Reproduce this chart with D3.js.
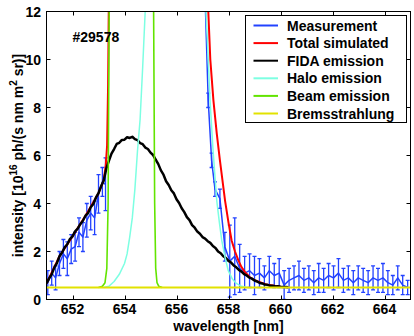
<!DOCTYPE html>
<html>
<head>
<meta charset="utf-8">
<script src="https://cdn.jsdelivr.net/npm/d3@7"></script>
<style>
body { margin: 0; background: #fff; }
text { font-family: "Liberation Sans", Arial, sans-serif; font-weight: bold; }
</style>
</head>
<body>
<div id="chart"></div>
<script>
// measured spectrum, left part / right part (null = gap)
var measWl = [651.05, 651.20, 651.35, 651.50, 651.65, 651.80, 651.95, 652.10, 652.25, 652.40, 652.55, 652.70, 652.85, 653.00, 653.15, 653.27,
	null,
	657.10, 657.22, 657.35, 657.48, 657.67, 657.86, 658.05, 658.24, 658.43, 658.62, 658.81, 659.00, 659.19, 659.38, 659.57, 659.76, 659.95,
	660.14, 660.33, 660.52, 660.71, 660.90, 661.09, 661.28, 661.47, 661.66, 661.85, 662.04, 662.23, 662.42, 662.61, 662.80, 662.99,
	663.18, 663.37, 663.56, 663.75, 663.94, 664.13, 664.32, 664.51, 664.70, 664.89];
var measVal = [0.7, 1.1, 0.9, 1.5, 1.9, 1.7, 2.1, 2.2, 2.8, 2.6, 3.3, 3.6, 3.4, 4.4, 4.9, 4.8,
	null,
	12.6, 8.3, 5.8, 4.6, 4.2, 2.2, 1.6, 1.8, 1.3, 1.1, 1.2, 1.0, 1.1, 0.9, 1.2, 1.0, 1.1,
	0.6, 0.8, 0.9, 1.0, 0.8, 0.9, 0.7, 0.9, 0.8, 1.0, 0.9, 1.1, 0.8, 0.9, 0.7, 0.9,
	0.8, 0.7, 0.9, 0.8, 0.9, 0.7, 0.6, 0.9, 0.6, 0.5];
var measErr = [0.5, 0.5, 0.5, 0.5, 0.6, 0.7, 0.6, 0.6, 0.6, 0.6, 0.7, 0.7, 0.7, 0.8, 0.6, 1.1,
	null,
	0.3, 0.3, 0.3, 0.3, 0.4, 0.6, 1.5, 1.6, 1.0, 0.7, 0.7, 0.8, 0.6, 0.5, 0.6, 0.5, 0.6,
	0.6, 0.5, 0.5, 0.6, 0.5, 0.5, 0.5, 0.6, 0.5, 0.5, 0.5, 0.6, 0.5, 0.5, 0.5, 0.5,
	0.5, 0.5, 0.5, 0.5, 0.6, 0.5, 0.4, 0.5, 0.4, 0.3];

var totalWl = [651.0, 651.5, 652.0, 652.5, 653.0, 653.2, 653.28, 653.33, 653.37, 653.41, 653.5, 657.1, 657.2, 657.3, 657.42, 657.55,
	657.67, 657.87, 658.0, 658.12, 658.25, 658.38, 658.5, 658.63, 658.8, 659.0, 659.5, 660.0, 660.3];
var totalVal = [0.67, 1.8, 2.63, 3.49, 4.43, 4.96, 5.6, 6.4, 9.0, 14, 30, 30, 12.6, 10.0, 8.3, 6.9,
	5.8, 4.1, 3.2, 2.46, 2.0, 1.63, 1.35, 1.15, 0.95, 0.8, 0.61, 0.53, 0.51];

var fidaWl = [651.0, 651.1, 651.2, 651.3, 651.4, 651.5, 651.6, 651.7, 651.8, 651.9,
	652.0, 652.1, 652.2, 652.3, 652.4, 652.5, 652.6, 652.7, 652.8, 652.9,
	653.0, 653.1, 653.2, 653.3, 653.4, 653.5, 653.6, 653.7, 653.8, 653.9,
	654.0, 654.1, 654.2, 654.3, 654.4, 654.5, 654.6, 654.7, 654.8, 654.9,
	655.0, 655.1, 655.2, 655.3, 655.4, 655.5, 655.6, 655.7, 655.8, 655.9,
	656.0, 656.1, 656.2, 656.3, 656.4, 656.5, 656.6, 656.7, 656.8, 656.9,
	657.0, 657.1, 657.2, 657.3, 657.4, 657.5, 657.6, 657.7, 657.8, 657.9,
	658.0, 658.1, 658.2, 658.3, 658.4, 658.5, 658.6, 658.7, 658.8, 658.9,
	659.0, 659.1, 659.2, 659.3, 659.4, 659.5, 659.6, 659.7, 659.8, 659.9,
	660.0, 660.1, 660.2, 660.3];
var fidaVal = [0.67, 0.88, 1.05, 1.33, 1.52, 1.80, 1.96, 2.17, 2.30, 2.52,
	2.63, 2.84, 2.95, 3.14, 3.28, 3.49, 3.60, 3.84, 3.98, 4.24,
	4.43, 4.72, 4.96, 5.45, 5.78, 6.08, 6.27, 6.48, 6.53, 6.65,
	6.66, 6.76, 6.73, 6.78, 6.68, 6.64, 6.52, 6.47, 6.33, 6.27,
	6.12, 6.02, 5.83, 5.64, 5.38, 5.20, 4.93, 4.77, 4.55, 4.42,
	4.18, 4.02, 3.80, 3.64, 3.43, 3.31, 3.10, 2.99, 2.83, 2.74,
	2.60, 2.54, 2.43, 2.36, 2.23, 2.15, 2.00, 1.93, 1.80, 1.73,
	1.61, 1.54, 1.42, 1.34, 1.23, 1.16, 1.06, 1.00, 0.91, 0.87,
	0.79, 0.75, 0.69, 0.67, 0.62, 0.61, 0.57, 0.57, 0.54, 0.55,
	0.53, 0.52, 0.52, 0.51];

var haloWl = [653.2, 653.4, 653.6, 653.8, 654.0, 654.1, 654.2, 654.3, 654.4, 654.5, 654.6, 654.7, 654.8, 655.0, 656.1,
	657.0, 657.1, 657.2, 657.29, 657.4, 657.55, 657.65, 657.74, 657.87, 657.99, 658.15, 658.3, 658.5, 658.7];
var haloVal = [0.5, 0.55, 0.75, 1.05, 1.5, 1.9, 2.6, 3.4, 4.6, 6.2, 7.5, 9.7, 12.1, 20, 40,
	20, 12.8, 10.5, 8.3, 6.3, 4.1, 3.2, 2.46, 1.75, 1.2, 0.85, 0.67, 0.55, 0.5];

var beamWl = [653.0, 653.15, 653.25, 653.32, 653.37, 653.41, 653.45, 655.08, 655.12, 655.16, 655.2, 655.25, 655.32, 655.45];
var beamVal = [0.5, 0.55, 0.7, 1.3, 4, 12, 30, 30, 12, 4, 1.3, 0.7, 0.55, 0.5];

var bremsWl = [651, 665];
var bremsVal = [0.5, 0.5];

var legendNames = ["Measurement", "Total simulated", "FIDA emission", "Halo emission", "Beam emission", "Bremsstrahlung"];
var legendColors = ["#2242ff", "#ff0000", "#000000", "#7dffe2", "#62e400", "#e2e200"];

var xTicks = [652, 654, 656, 658, 660, 662, 664];
var yTicks = [0, 2, 4, 6, 8, 10, 12];

var W = 414, H = 336;
var x0 = 46.5, x1 = 410.5, y0 = 11.5, y1 = 299.5;

var x = d3.scaleLinear().domain([651, 665]).range([x0, x1]);
var y = d3.scaleLinear().domain([0, 12]).range([y1, y0]);

var svg = d3.select("#chart").append("svg")
	.attr("width", W)
	.attr("height", H);

svg.append("clipPath").attr("id", "clip")
	.append("rect")
	.attr("x", x0).attr("y", y0)
	.attr("width", x1 - x0).attr("height", y1 - y0);

var plot = svg.append("g").attr("clip-path", "url(#clip)");

function pairs(wl, val) {
	var out = [];
	for (var i = 0; i < wl.length; i++) {
		out.push({ wl: wl[i], v: val[i] });
	}
	return out;
}

var line = d3.line()
	.defined(function (d) { return d.wl != null; })
	.x(function (d) { return x(d.wl); })
	.y(function (d) { return y(d.v); });

function drawCurve(wl, val, color, width) {
	plot.append("path")
		.datum(pairs(wl, val))
		.attr("d", line)
		.attr("fill", "none")
		.attr("stroke", color)
		.attr("stroke-width", width)
		.attr("stroke-linejoin", "round");
}

// measurement with error bars
drawCurve(measWl, measVal, legendColors[0], 1.5);
var meas = [];
for (var i = 0; i < measWl.length; i++) {
	if (measWl[i] != null) meas.push({ wl: measWl[i], v: measVal[i], e: measErr[i] });
}
var bars = plot.append("g")
	.attr("stroke", legendColors[0])
	.attr("stroke-width", 1.3);
bars.selectAll("path").data(meas).enter().append("path")
	.attr("fill", "none")
	.attr("d", function (d) {
		var xx = x(d.wl), lo = y(d.v - d.e), hi = y(d.v + d.e);
		return "M" + xx + "," + lo + "V" + hi +
			"M" + (xx - 2) + "," + hi + "H" + (xx + 2) +
			"M" + (xx - 2) + "," + lo + "H" + (xx + 2);
	});

drawCurve(totalWl, totalVal, legendColors[1], 2);
drawCurve(fidaWl, fidaVal, legendColors[2], 2.5);
drawCurve(haloWl, haloVal, legendColors[3], 1.5);
drawCurve(beamWl, beamVal, legendColors[4], 1.6);
drawCurve(bremsWl, bremsVal, legendColors[5], 2.2);

// frame + ticks on all sides
svg.append("rect")
	.attr("x", x0).attr("y", y0)
	.attr("width", x1 - x0).attr("height", y1 - y0)
	.attr("fill", "none").attr("stroke", "#000").attr("stroke-width", 1);

var tk = svg.append("g").attr("stroke", "#000").attr("stroke-width", 1);
xTicks.forEach(function (t) {
	var xx = Math.round(x(t)) + 0.5;
	tk.append("line").attr("x1", xx).attr("x2", xx).attr("y1", y1).attr("y2", y1 - 4);
	tk.append("line").attr("x1", xx).attr("x2", xx).attr("y1", y0).attr("y2", y0 + 4);
});
yTicks.forEach(function (t) {
	var yy = y(t);
	tk.append("line").attr("x1", x0).attr("x2", x0 + 4).attr("y1", yy).attr("y2", yy);
	tk.append("line").attr("x1", x1).attr("x2", x1 - 4).attr("y1", yy).attr("y2", yy);
});

svg.append("g").selectAll("text").data(xTicks).enter().append("text")
	.attr("x", function (d) { return x(d); })
	.attr("y", 314)
	.attr("text-anchor", "middle")
	.attr("font-size", 14)
	.text(function (d) { return d; });

svg.append("g").selectAll("text").data(yTicks).enter().append("text")
	.attr("x", 41)
	.attr("y", function (d) { return y(d) + 5; })
	.attr("text-anchor", "end")
	.attr("font-size", 14)
	.text(function (d) { return d; });

// axis labels
svg.append("text")
	.attr("x", (x0 + x1) / 2)
	.attr("y", 331)
	.attr("text-anchor", "middle")
	.attr("font-size", 14)
	.text("wavelength [nm]");

var yl = svg.append("text")
	.attr("transform", "translate(23," + ((y0 + y1) / 2) + ") rotate(-90)")
	.attr("text-anchor", "middle")
	.attr("font-size", 14);
yl.append("tspan").text("intensity [10");
yl.append("tspan").attr("font-size", 10).attr("dy", -6).text("16");
yl.append("tspan").attr("dy", 6).text(" ph/(s nm m");
yl.append("tspan").attr("font-size", 10).attr("dy", -6).text("2");
yl.append("tspan").attr("dy", 6).text(" sr)]");

svg.append("text")
	.attr("x", 72.5)
	.attr("y", 41.5)
	.attr("font-size", 14)
	.text("#29578");

// legend
var lg = svg.append("g");
lg.append("rect")
	.attr("x", 245.5).attr("y", 15.5)
	.attr("width", 161).attr("height", 107)
	.attr("fill", "#fff").attr("stroke", "#000").attr("stroke-width", 1);
legendNames.forEach(function (name, i) {
	var yy = 25.5 + i * 17.6;
	lg.append("line")
		.attr("x1", 253.5).attr("x2", 278)
		.attr("y1", yy).attr("y2", yy)
		.attr("stroke", legendColors[i]).attr("stroke-width", 2);
	lg.append("text")
		.attr("x", 287).attr("y", yy + 5)
		.attr("font-size", 14)
		.text(name);
});
</script>
</body>
</html>
